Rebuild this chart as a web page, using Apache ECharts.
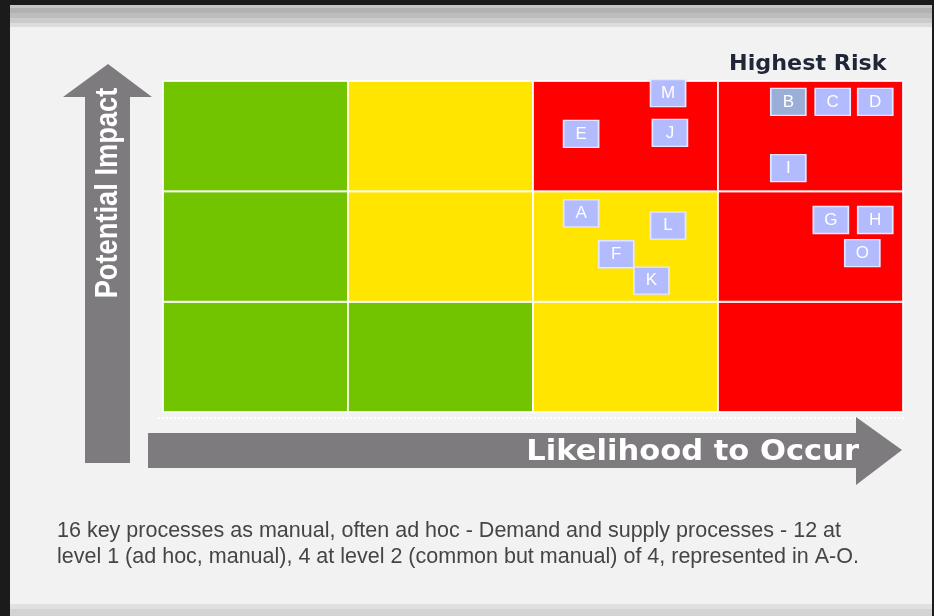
<!DOCTYPE html>
<html>
<head>
<meta charset="utf-8">
<script src="https://cdn.jsdelivr.net/npm/echarts@6/dist/echarts.min.js"></script>
<style>
  html, body { margin: 0; padding: 0; background: #f2f2f2; }
  #main { width: 934px; height: 616px; }
</style>
</head>
<body>
<div id="main"></div>
<script>
// risk level of each cell, rows from low impact (bottom) to high impact (top)
// 0 = low, 1 = medium, 2 = high
const cellLevelsByImpact = [
  [0, 0, 1, 2],
  [0, 1, 1, 2],
  [0, 1, 2, 2],
]
const levelColors = ["#73c400", "#ffe500", "#ff0000"]

// process markers A-O, placed on likelihood (0-4) / impact (0-3)
const riskIds        = ["A", "B", "C", "D", "E", "F", "G", "H", "I", "J", "K", "L", "M", "O"]
const riskLikelihood = [2.26, 3.38, 3.62, 3.85, 2.26, 2.45, 3.61, 3.85, 3.38, 2.74, 2.64, 2.73, 2.73, 3.78]
const riskImpact     = [1.80, 2.81, 2.81, 2.81, 2.52, 1.43, 1.74, 1.74, 2.21, 2.53, 1.19, 1.69, 2.89, 1.44]

const cornerLabel = "Highest Risk"
const yLabel = "Potential Impact"
const xLabel = "Likelihood to Occur"
const caption = "16 key processes as manual, often ad hoc - Demand and supply processes - 12 at\nlevel 1 (ad hoc, manual), 4 at level 2 (common but manual) of 4, represented in A-O."

const cellData = []
cellLevelsByImpact.forEach((row, impact) => {
  row.forEach((level, likelihood) => {
    cellData.push([likelihood, impact, level])
  })
})

const markerData = riskIds.map((id, i) => ({
  name: id,
  value: [riskLikelihood[i], riskImpact[i]],
  itemStyle: id === "B" ? { color: "#9baed8" } : undefined,
}))

const chart = echarts.init(document.getElementById("main"))

const bands = [
  [5, 3, "#c6c6c6"],
  [8, 5, "#b2b2b2"],
  [13, 5, "#bdbdbd"],
  [18, 5, "#cbcbcb"],
  [23, 4, "#dcdcdc"],
  [604, 5, "#e0e0e0"],
  [609, 7, "#d3d3d3"],
]

const option = {
  backgroundColor: "#f2f2f2",
  animation: false,
  grid: { left: 163, top: 81, width: 740, height: 331 },
  xAxis: { type: "value", min: 0, max: 4, show: false },
  yAxis: { type: "value", min: 0, max: 3, show: false },
  graphic: [
    // frame
    ...bands.map(b => ({
      type: "rect", silent: true,
      shape: { x: 0, y: b[0], width: 934, height: b[1] },
      style: { fill: b[2] },
    })),
    { type: "rect", silent: true, shape: { x: 0, y: 0, width: 934, height: 5 }, style: { fill: "#1b1b1b" } },
    { type: "rect", silent: true, shape: { x: 0, y: 0, width: 10, height: 616 }, style: { fill: "#1b1b1b" } },
    { type: "rect", silent: true, shape: { x: 932, y: 0, width: 2, height: 616 }, style: { fill: "#1b1b1b" } },
    // faint shadow under the matrix
    {
      type: "line", silent: true,
      shape: { x1: 158, y1: 418, x2: 906, y2: 418 },
      style: { stroke: "#ffffff", lineWidth: 2, lineDash: [2, 2] },
    },
    // vertical arrow
    {
      type: "polygon", silent: true,
      shape: { points: [[108, 64], [152, 97], [130, 97], [130, 463], [85, 463], [85, 97], [63, 97]] },
      style: { fill: "#7e7b7f" },
    },
    {
      type: "text", silent: true,
      x: 108, y: 193, rotation: Math.PI / 2, scaleX: 0.88,
      style: {
        text: yLabel, fill: "#ffffff",
        font: "bold 31px 'Liberation Sans', Arial, sans-serif",
        align: "center", verticalAlign: "middle",
      },
    },
    // horizontal arrow
    {
      type: "polygon", silent: true,
      shape: { points: [[148, 433], [856, 433], [856, 417], [902, 450], [856, 485], [856, 468], [148, 468]] },
      style: { fill: "#7e7b7f" },
    },
    {
      type: "text", silent: true,
      x: 859, y: 452, scaleX: 1.054,
      style: {
        text: xLabel, fill: "#ffffff",
        font: "bold 29px 'DejaVu Sans', sans-serif",
        align: "right", verticalAlign: "middle",
      },
    },
    // corner label
    {
      type: "text", silent: true,
      x: 729, y: 65, scaleX: 1.06,
      style: {
        text: cornerLabel, fill: "#1e2638",
        font: "bold 21px 'DejaVu Sans', sans-serif",
        align: "left", verticalAlign: "middle",
      },
    },
    // caption
    {
      type: "text", silent: true,
      x: 57, y: 518,
      style: {
        text: caption, fill: "#454545",
        font: "21.5px 'Liberation Sans', Arial, sans-serif",
        lineHeight: 26,
        align: "left", verticalAlign: "top",
      },
    },
  ],
  series: [
    {
      type: "custom",
      data: cellData,
      renderItem: (params, api) => {
        const x = api.value(0)
        const y = api.value(1)
        const p0 = api.coord([x, y + 1])
        const p1 = api.coord([x + 1, y])
        return {
          type: "rect",
          shape: { x: p0[0], y: p0[1], width: p1[0] - p0[0], height: p1[1] - p0[1] },
          style: { fill: levelColors[api.value(2)], stroke: "rgba(255,255,255,0.85)", lineWidth: 2 },
        }
      },
      silent: true,
      z: 1,
    },
    {
      type: "scatter",
      data: markerData,
      symbol: "rect",
      symbolSize: [35, 27],
      itemStyle: { color: "#b3bbff", borderColor: "#e4e7ff", borderWidth: 1.5, opacity: 1 },
      label: {
        show: true,
        position: "inside",
        formatter: p => p.name,
        color: "#ffffff",
        fontSize: 17,
        fontFamily: "Liberation Sans, Arial, sans-serif",
      },
      z: 3,
    },
  ],
}

option && chart.setOption(option)
</script>
</body>
</html>
